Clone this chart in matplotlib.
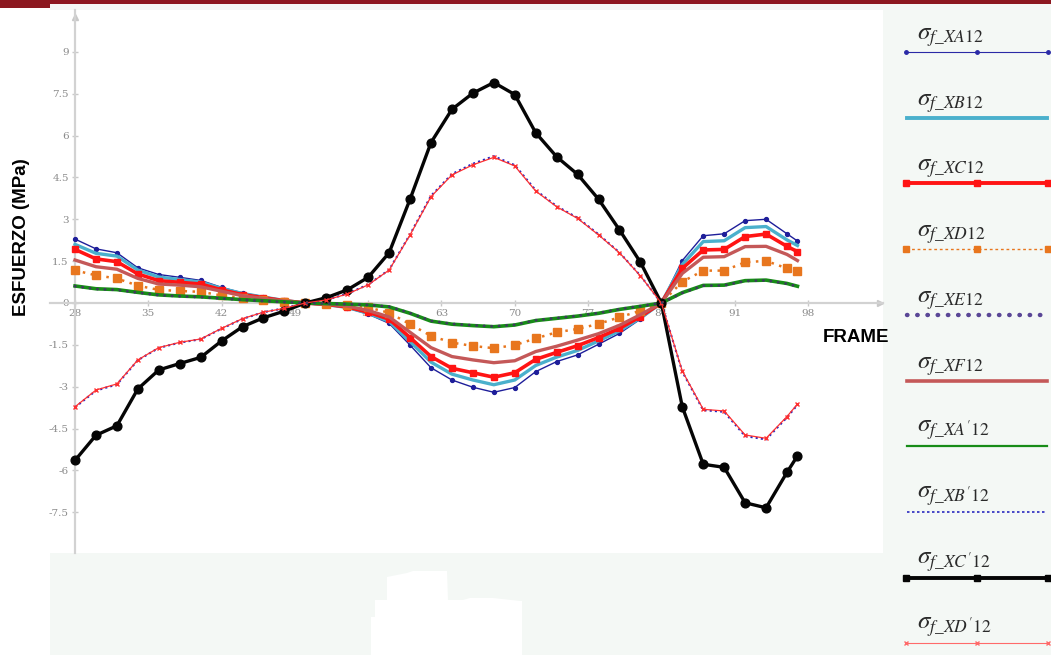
import matplotlib
matplotlib.use("Agg")
import matplotlib.pyplot as plt
from matplotlib.patches import Rectangle, Polygon

plt.rcParams["mathtext.fontset"] = "stix"

# frames sampled every 2 steps, last one at 97
frame = [28, 30, 32, 34, 36, 38, 40, 42, 44, 46, 48, 50, 52, 54, 56, 58, 60, 62,
         64, 66, 68, 70, 72, 74, 76, 78, 80, 82, 84, 86, 88, 90, 92, 94, 96, 97]

xa = [2.29, 1.94, 1.80, 1.26, 1.02, 0.92, 0.81, 0.56, 0.36, 0.23, 0.10, 0, -0.07, -0.18,
      -0.40, -0.73, -1.51, -2.32, -2.76, -3.02, -3.20, -3.03, -2.46, -2.10, -1.86, -1.48,
      -1.09, -0.58, 0, 1.52, 2.41, 2.48, 2.95, 3.00, 2.48, 2.22]
xb = [2.10, 1.78, 1.68, 1.18, 0.93, 0.84, 0.75, 0.52, 0.34, 0.21, 0.09, 0, -0.06, -0.16,
      -0.37, -0.66, -1.38, -2.12, -2.55, -2.76, -2.93, -2.76, -2.24, -1.94, -1.70, -1.36,
      -1.00, -0.54, 0, 1.38, 2.20, 2.23, 2.70, 2.74, 2.26, 2.06]
xc = [1.92, 1.58, 1.48, 1.04, 0.80, 0.74, 0.68, 0.47, 0.30, 0.19, 0.08, 0, -0.05, -0.14,
      -0.33, -0.58, -1.24, -1.92, -2.34, -2.50, -2.66, -2.50, -2.02, -1.77, -1.53, -1.24,
      -0.91, -0.49, 0, 1.24, 1.90, 1.92, 2.38, 2.47, 2.03, 1.84]
xd = [1.17, 0.99, 0.88, 0.62, 0.47, 0.43, 0.40, 0.27, 0.18, 0.10, 0.05, 0, -0.03, -0.07,
      -0.16, -0.35, -0.76, -1.18, -1.42, -1.54, -1.62, -1.51, -1.27, -1.05, -0.93, -0.75,
      -0.51, -0.28, 0, 0.76, 1.16, 1.16, 1.46, 1.51, 1.24, 1.15]
xe = [0.60, 0.50, 0.47, 0.37, 0.28, 0.24, 0.21, 0.16, 0.11, 0.07, 0.03, 0, -0.02, -0.04,
      -0.07, -0.13, -0.36, -0.64, -0.75, -0.80, -0.84, -0.78, -0.62, -0.54, -0.46, -0.36,
      -0.22, -0.11, 0, 0.36, 0.62, 0.63, 0.79, 0.81, 0.69, 0.59]
xf = [1.54, 1.30, 1.21, 0.88, 0.68, 0.64, 0.58, 0.42, 0.26, 0.16, 0.07, 0, -0.04, -0.11,
      -0.27, -0.50, -1.05, -1.60, -1.92, -2.04, -2.14, -2.07, -1.74, -1.55, -1.33, -1.10,
      -0.80, -0.42, 0, 1.06, 1.64, 1.66, 2.02, 2.03, 1.74, 1.52]
xa_p = [0.61, 0.51, 0.48, 0.38, 0.29, 0.25, 0.22, 0.17, 0.12, 0.08, 0.04, 0, -0.02, -0.04,
        -0.07, -0.14, -0.37, -0.65, -0.76, -0.81, -0.85, -0.79, -0.63, -0.55, -0.47, -0.37,
        -0.23, -0.12, 0, 0.37, 0.63, 0.64, 0.80, 0.82, 0.70, 0.60]
xb_p = [-3.74, -3.14, -2.92, -2.05, -1.61, -1.42, -1.30, -0.92, -0.57, -0.33, -0.19, 0, 0.11,
        0.33, 0.66, 1.19, 2.46, 3.84, 4.62, 4.99, 5.26, 4.94, 4.04, 3.47, 3.05, 2.46, 1.81,
        0.98, 0, -2.46, -3.84, -3.90, -4.77, -4.89, -4.10, -3.65]
xc_p = [-5.64, -4.74, -4.40, -3.08, -2.40, -2.17, -1.95, -1.36, -0.85, -0.53, -0.29, 0, 0.19,
        0.47, 0.92, 1.80, 3.72, 5.75, 6.94, 7.52, 7.90, 7.47, 6.10, 5.24, 4.61, 3.72, 2.62,
        1.46, 0, -3.72, -5.78, -5.89, -7.16, -7.34, -6.07, -5.48]
xd_p = [-3.72, -3.12, -2.90, -2.04, -1.60, -1.41, -1.29, -0.91, -0.56, -0.33, -0.19, 0, 0.11,
        0.32, 0.65, 1.18, 2.44, 3.81, 4.59, 4.95, 5.22, 4.91, 4.01, 3.45, 3.03, 2.44, 1.80,
        0.97, 0, -2.44, -3.81, -3.87, -4.73, -4.85, -4.07, -3.62]

labels = ["XA", "XB", "XC", "XD", "XE", "XF", "XA'", "XB'", "XC'", "XD'"]
series = [xa, xb, xc, xd, xe, xf, xa_p, xb_p, xc_p, xd_p]

# line style per series: (plot kwargs, legend kwargs)
styles = [
    (dict(color="#1e1e9a", lw=1.0, marker="o", ms=2.8, zorder=3),
     dict(color="#2a2aa6", lw=0.8, marker="o", ms=2.5)),
    (dict(color="#4ab0cc", lw=2.4, zorder=3),
     dict(color="#4ab0cc", lw=2.8)),
    (dict(color="#ff1414", lw=2.6, marker="s", ms=4.2, zorder=3),
     dict(color="#ff1414", lw=2.8, marker="s", ms=4)),
    (dict(color="#e8761e", lw=1.8, ls=(0, (1, 2.2)), marker="s", ms=5.5, zorder=3),
     dict(color="#e8761e", lw=1.0, ls=(0, (2, 2)), marker="s", ms=4.5)),
    (dict(color="#3e3a5e", lw=2.0, ls=(0, (0.1, 2.6)), dash_capstyle="round", zorder=3.5),
     dict(color="#5a4796", lw=3.2, ls=(0, (0.1, 2.2)), dash_capstyle="round")),
    (dict(color="#c45858", lw=2.4, zorder=3),
     dict(color="#c45858", lw=2.6)),
    (dict(color="#178c17", lw=2.6, zorder=3),
     dict(color="#178c17", lw=1.6)),
    (dict(color="#2424c0", lw=1.5, ls=(0, (1, 1.5)), zorder=3),
     dict(color="#2a2ac0", lw=1.2, ls=(0, (1.5, 1.5)))),
    (dict(color="#050505", lw=2.4, marker="o", ms=6.3, zorder=3),
     dict(color="#050505", lw=2.8, marker="s", ms=4.5)),
    (dict(color="#ff3030", lw=0.9, marker="x", ms=3.5, mew=1.0, zorder=3),
     dict(color="#ff6a6a", lw=0.8, marker="x", ms=3.5, mew=1.0)),
]

W, H = 1051, 655


def rect(x0, y0, x1, y1):
    return [x0 / W, 1 - y1 / H, (x1 - x0) / W, (y1 - y0) / H]


fig = plt.figure(figsize=(W / 100, H / 100), dpi=100)

# page background pieces
bg = fig.add_axes([0, 0, 1, 1], zorder=0)
bg.set_xlim(0, W)
bg.set_ylim(H, 0)
bg.axis("off")
panel = "#f4f8f5"
bg.add_patch(Rectangle((0, 0), W, 10, color=panel, lw=0))
bg.add_patch(Rectangle((0, 0), W, 4, color="#8c1820", lw=0))
bg.add_patch(Rectangle((0, 0), 50, 8, color="#8c1820", lw=0))
bg.add_patch(Rectangle((0, 8), 50, 2, color="white", lw=0))
bg.add_patch(Rectangle((883, 10), W - 883, H - 10, color=panel, lw=0))
bg.add_patch(Rectangle((50, 553), 833, H - 553, color=panel, lw=0))
bg.add_patch(Polygon([(371, 655), (371, 617), (375, 617), (375, 600), (387, 600), (387, 577),
                      (407, 573), (413, 571), (447, 571), (448, 600), (463, 600), (470, 598),
                      (493, 598), (520, 601), (522, 601), (522, 655)],
                     closed=True, color="white", lw=0))

# main chart
ax = fig.add_axes(rect(50, 10, 883, 553), zorder=1)
ax.set_facecolor("white")
ax.set_xlim(25.61, 105.17)
ax.set_ylim(-8.96, 10.5)

for y, (pk, _) in zip(series, styles):
    ax.plot(frame, y, **pk)

for side in ["top", "right"]:
    ax.spines[side].set_visible(False)
ax.spines["left"].set_position(("data", 28))
ax.spines["bottom"].set_position(("data", 0))
for side in ["left", "bottom"]:
    ax.spines[side].set_color("#d2d2d2")
    ax.spines[side].set_linewidth(1.6)
ax.plot(28, 10.25, marker="^", color="#c8c8c8", ms=4.5, clip_on=False, zorder=2)
ax.plot(104.9, 0, marker=">", color="#c8c8c8", ms=4.5, clip_on=False, zorder=2)

ax.set_xticks([28, 35, 42, 49, 56, 63, 70, 77, 84, 91, 98])
ax.set_yticks([-7.5, -6, -4.5, -3, -1.5, 0, 1.5, 3, 4.5, 6, 7.5, 9])
ax.set_yticklabels(["-7.5", "-6", "-4.5", "-3", "-1.5", "0", "1.5", "3", "4.5", "6", "7.5", "9"])
ax.tick_params(direction="inout", length=5, width=1, color="#c8c8c8",
               labelcolor="#8a8a8a", labelsize=7.5, pad=2)
for t in ax.get_xticklabels() + ax.get_yticklabels():
    t.set_family("DejaVu Serif")

fig.text(22 / W, 1 - 237 / H, "ESFUERZO (MPa)", rotation=90, ha="center", va="center",
         fontsize=13.5, fontweight="bold", family="Liberation Sans")
fig.text(823 / W, 1 - 337 / H, "FRAME", ha="left", va="center",
         fontsize=13.5, fontweight="bold", family="Liberation Sans", zorder=5)

# legend column on the right
for i, (name, (_, lk)) in enumerate(zip(labels, styles)):
    yl = 52 + 65.7 * i
    kw = dict(lk)
    if "marker" in kw:
        bg.plot([906, 977, 1048], [yl, yl, yl], **kw)
    else:
        bg.plot([907, 1047], [yl, yl], **kw)
    bg.text(917, yl - 15, r"$\sigma_{f\_" + name + r"\mathrm{12}}$", fontsize=18,
            color="#2a2a2a", va="center", ha="left")

fig.savefig("out.png", dpi=100)
